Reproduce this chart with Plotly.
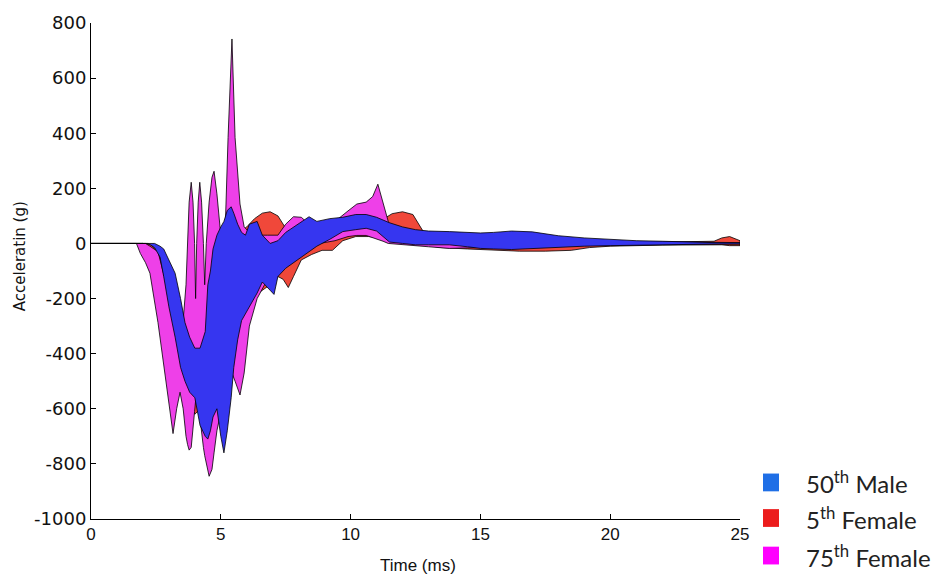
import plotly.graph_objects as go

# ---------------- data ----------------
# 75th Female corridor
t_f75 = [0, 1.75, 1.9, 2.1, 2.27, 2.58, 2.85, 3.0, 3.16, 3.3, 3.43, 3.55,
         3.66, 3.72, 3.78, 3.86, 3.93, 3.99, 4.03, 4.07, 4.13, 4.19, 4.26, 4.33, 4.38,
         4.44, 4.55, 4.66, 4.74, 4.85, 4.98, 5.08, 5.14, 5.2, 5.28, 5.43, 5.55, 5.74,
         5.9, 6.1, 6.4, 6.8, 7.2, 7.5, 7.8, 8.1, 8.4, 8.8, 9.4, 9.9, 10.24, 10.6, 10.85,
         11.05, 11.25, 11.45, 11.6, 12.0, 12.5, 13.0, 13.8, 15, 17, 20, 23, 25]
up_f75 = [0, 0, 0, 0, -10, -30, -130, -200, -260, -290, -300, -280,
          -150, 0, 150, 222, 150, 0, -200, 0, 150, 222, 150, 0, -150,
          0, 150, 240, 262, 180, 50, 0, -30, 143, 384, 742, 384, 143,
          60, 40, 30, 30, 30, 70, 97, 95, 70, 60, 80, 118, 143, 150, 170,
          215, 150, 80, 55, 45, 40, 35, 30, 20, 15, 8, 5, 3]
lo_f75 = [0, 0, -36, -70, -108, -287, -466, -580, -690, -600, -540, -600,
          -700, -730, -750, -740, -680, -610, -570, -560, -580, -620, -680, -740, -770,
          -800, -845, -820, -760, -680, -620, -580, -560, -520, -480, -470, -500, -550,
          -470, -300, -200, -130, -100, -70, -50, -30, -15, 0, 10, 25, 29, 29, 20,
          15, 8, 0, -2, -5, -8, -12, -18, -15, -10, -6, -3, -2]

# 5th Female corridor
t_f5 = [0, 2.0, 2.3, 2.6, 2.9, 3.2, 3.5, 3.8, 4.0, 4.2, 4.5, 4.8, 5.1, 5.4, 5.7, 6.0,
        6.3, 6.6, 6.9, 7.2, 7.4, 7.6, 7.8, 8.1, 8.5, 8.9, 9.3, 9.7, 10.2, 10.7, 11.2,
        11.6, 12.0, 12.4, 12.8, 13.5, 14.5, 15.5, 16.5, 17.5, 18.5, 19.2, 20, 22, 24,
        24.3, 24.6, 25]
up_f5 = [0, 0, -5, -30, -120, -220, -300, -350, -300, -250, -200, -100, 0, 60, 40, 60,
         90, 110, 115, 100, 70, 40, 40, 50, 60, 60, 70, 80, 85, 90, 85,
         108, 115, 105, 43, 30, 25, 20, 20, 15, 10, 8, 6, 5, 8,
         20, 25, 10]
lo_f5 = [0, 0, -20, -110, -280, -430, -520, -580, -620, -600, -560, -550, -500, -400, -300, -230,
         -190, -170, -150, -120, -130, -160, -120, -60, -40, -25, -25, 10, 25, 25, 20,
         15, 10, 5, -5, -15, -20, -25, -28, -28, -25, -15, -10, -6, -5,
         -5, -8, -8]

# 50th Male corridor
t_m50 = [0, 2.2, 2.45, 2.66, 2.8, 3.0, 3.24, 3.45, 3.62, 3.8, 4.0, 4.2, 4.4, 4.5, 4.6,
         4.7, 4.85, 5.0, 5.12, 5.25, 5.4, 5.5, 5.65, 5.8, 5.95, 6.1, 6.4, 6.6, 6.9, 7.05,
         7.2, 7.5, 7.8, 8.1, 8.4, 8.7, 9.2, 9.7, 10.2, 10.6, 11.0, 11.5, 12.0, 12.5, 13.0,
         13.8, 14.5, 15, 15.5, 16.2, 17, 18, 19, 20, 21, 22, 23, 24, 25]
up_m50 = [0, 0, 0, -10, -20, -60, -108, -200, -287, -340, -380, -380, -320, -150, -100,
          -20, 30, 60, 80, 120, 133, 110, 70, 40, 30, 70, 80, 30, 0, 5,
          10, 40, 60, 80, 97, 80, 90, 95, 105, 105, 95, 75, 60, 50, 45,
          43, 40, 38, 40, 45, 42, 28, 20, 15, 10, 8, 5, 3, 2]
lo_m50 = [0, 0, -15, -50, -120, -230, -340, -450, -500, -540, -560, -660, -700, -710, -680,
          -630, -600, -700, -760, -680, -560, -450, -350, -280, -250, -230, -180, -140, -170, -185,
          -120, -90, -70, -50, -30, -10, 15, 43, 50, 55, 45, 5, 0, -5, -5,
          -5, -12, -18, -20, -22, -20, -15, -10, -8, -6, -5, -3, -2, -2]

series_names = ["5<sup>th</sup> Female", "75<sup>th</sup> Female", "50<sup>th</sup> Male"]
x_ticks = [0, 5, 10, 15, 20, 25]
y_ticks = [-1000, -800, -600, -400, -200, 0, 200, 400, 600, 800]
y_tick_text = ["-1000", "-800", "-600", "-400", "-200", "0", "200", "400", "600", "800"]

# ---------------- figure ----------------
W, H = 943, 583
L, R, T, B = 91, 203, 17, 64
PW, PH = W - L - R, H - T - B

def px(x):
    return (x - L) / PW

def py(y):
    return (H - B - y) / PH

fill_cols = ["#f0483a", "#ee40e8", "#3636f0"]
fig = go.Figure()
for (t, up, lo), name, col in zip(
        [(t_f5, up_f5, lo_f5), (t_f75, up_f75, lo_f75), (t_m50, up_m50, lo_m50)],
        series_names, fill_cols):
    fig.add_trace(go.Scatter(
        x=list(t) + list(t[::-1]) + [t[0]],
        y=list(up) + list(lo[::-1]) + [up[0]],
        fill="toself", fillcolor=col, mode="lines",
        line=dict(color="black", width=0.8), name=name, showlegend=False,
        hoverinfo="skip"))

axis_common = dict(showgrid=False, zeroline=False, showline=True, linecolor="black",
                   linewidth=1, ticks="inside", ticklen=5, tickcolor="black", mirror=False)
fig.update_xaxes(range=[0, 25], tickvals=x_ticks, **axis_common,
                 tickfont=dict(family="Liberation Sans", size=17, color="#111"))
fig.update_yaxes(range=[-1000, 800], tickvals=y_ticks, ticktext=y_tick_text, **axis_common,
                 tickfont=dict(family="DejaVu Sans", size=18, color="#111"))

annotations = [
    dict(text="Time (ms)", x=px(418), y=py(566), xref="paper", yref="paper",
         showarrow=False, xanchor="center", yanchor="middle",
         font=dict(family="Liberation Sans", size=17, color="#111")),
    dict(text="Acceleratin (g)", x=px(20), y=py(253), xref="paper", yref="paper",
         showarrow=False, textangle=-90, xanchor="center", yanchor="middle",
         font=dict(family="DejaVu Sans", size=15, color="#111")),
]
shapes = []
legend_items = [("50<sup>th</sup> Male", "#1f6fe6", 482),
                ("5<sup>th</sup> Female", "#ec1c1c", 518),
                ("75<sup>th</sup> Female", "#ff00ff", 556)]
for label, col, cy in legend_items:
    shapes.append(dict(type="rect", xref="paper", yref="paper",
                       x0=px(763), x1=px(779), y0=py(cy + 9), y1=py(cy - 9),
                       fillcolor=col, line=dict(width=0)))
    annotations.append(dict(text=label, x=px(804), y=py(cy), xref="paper", yref="paper",
                            showarrow=False, xanchor="left", yanchor="middle",
                            font=dict(family="Lato", size=24, color="#222")))

fig.update_layout(width=W, height=H, margin=dict(l=L, r=R, t=T, b=B, pad=0),
                  plot_bgcolor="white", paper_bgcolor="white",
                  annotations=annotations, shapes=shapes, showlegend=False)

fig.write_html("out.html")
